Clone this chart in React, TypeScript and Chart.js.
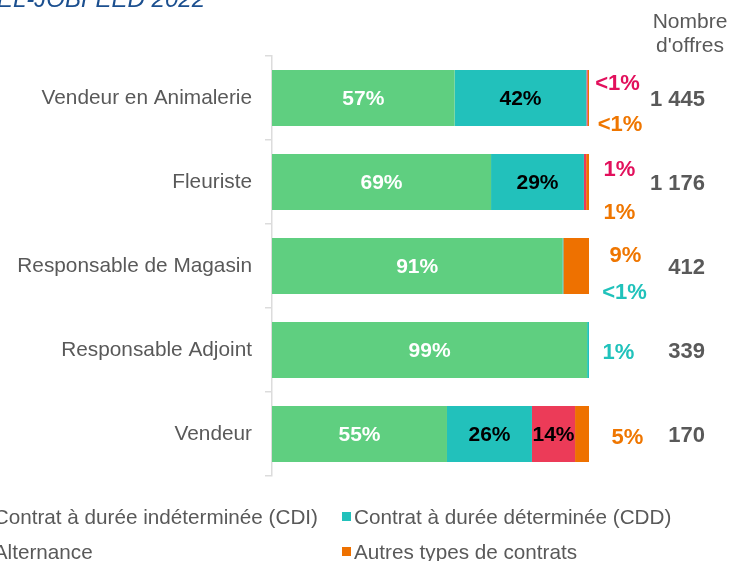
import React, { useEffect, useRef } from "react";
import { Chart, registerables } from "chart.js";

Chart.register(...registerables);

// ---- data ----
const categories = [
  "Vendeur en Animalerie",
  "Fleuriste",
  "Responsable de Magasin",
  "Responsable Adjoint",
  "Vendeur",
];
const cdiValues = [57.6, 69.1, 91.6, 99.4, 55.2];
const cddValues = [41.6, 29.3, 0.3, 0.6, 26.8];
const altValues = [0.4, 0.7, 0, 0, 13.6];
const autresValues = [0.4, 0.9, 8.1, 0, 4.4];

const cdiLabels = ["57%", "69%", "91%", "99%", "55%"];
const cddLabels = ["42%", "29%", "<1%", "1%", "26%"];
const altLabels = ["<1%", "1%", "", "", "14%"];
const autresLabels = ["<1%", "1%", "9%", "", "5%"];

const offres = ["1 445", "1 176", "412", "339", "170"];
const offresHeader = ["Nombre", "d'offres"];
const seriesNames = [
  "Contrat à durée indéterminée (CDI)",
  "Contrat à durée déterminée (CDD)",
  "Alternance",
  "Autres types de contrats",
];
const titleText = "TEXTKERNEL-JOBFEED 2022";

// ---- styles / layout ----
const FONT = "'Liberation Sans', Arial, sans-serif";
const barColors = ["#5fcf80", "#22c1bb", "#ec3b58", "#ee7100"];
const outsideTextColors = ["#5fcf80", "#20c2bb", "#e2105c", "#ef7600"];
const insideTextColors = ["#ffffff", "#000000", "#000000", "#000000"];
const GREY = "#595959";

// outside labels: [row, series, dx from right edge, dy from row centre]
const outsidePlacement: [number, number, number, number][] = [
  [0, 2, 28.5, -14.5],
  [0, 3, 31, 26.5],
  [1, 2, 30.5, -12],
  [1, 3, 30.5, 31],
  [2, 3, 36.5, -10],
  [2, 1, 35.5, 27],
  [3, 1, 29.5, 3],
  [4, 3, 38.5, 4],
];

const allLabels = [cdiLabels, cddLabels, altLabels, autresLabels];

const textPlugin = {
  id: "customText",
  afterDatasetsDraw(chart: any) {
    const ctx = chart.ctx as CanvasRenderingContext2D;
    const xs = chart.scales.x;
    const ys = chart.scales.y;
    ctx.save();

    // inside labels
    ctx.textAlign = "center";
    ctx.textBaseline = "middle";
    ctx.font = `bold 21px ${FONT}`;
    chart.data.datasets.forEach((ds: any, di: number) => {
      const meta = chart.getDatasetMeta(di);
      meta.data.forEach((el: any, j: number) => {
        const v = ds.data[j];
        if (v >= 10) {
          ctx.fillStyle = insideTextColors[di];
          ctx.fillText(allLabels[di][j], (el.x + el.base) / 2, el.y + 1);
        }
      });
    });

    // outside labels
    ctx.font = `bold 22px ${FONT}`;
    const right = xs.getPixelForValue(100);
    outsidePlacement.forEach(([row, s, dx, dy]) => {
      ctx.fillStyle = outsideTextColors[s];
      ctx.fillText(allLabels[s][row], right + dx, ys.getPixelForValue(row) + dy);
    });

    // number of offers
    ctx.textAlign = "right";
    ctx.fillStyle = GREY;
    ctx.font = `bold 22px ${FONT}`;
    offres.forEach((o, j) => {
      ctx.fillText(o, 705, ys.getPixelForValue(j) + 2);
    });

    // header
    ctx.textAlign = "center";
    ctx.font = `21px ${FONT}`;
    ctx.fillText(offresHeader[0], 690, 22);
    ctx.fillText(offresHeader[1], 690, 46);

    // title
    ctx.textAlign = "right";
    ctx.textBaseline = "alphabetic";
    ctx.font = `italic 24px ${FONT}`;
    ctx.fillStyle = "#1b4f8f";
    ctx.fillText(titleText, 205, 7);

    // legend
    ctx.font = `20.7px ${FONT}`;
    ctx.textBaseline = "middle";
    ctx.textAlign = "left";
    const col1End = 318;
    const col1X = col1End - ctx.measureText(seriesNames[0]).width;
    const col2X = 354;
    const rowsY = [517, 552];
    const pos = [
      [col1X, rowsY[0]],
      [col2X, rowsY[0]],
      [col1X, rowsY[1]],
      [col2X, rowsY[1]],
    ];
    seriesNames.forEach((name, i) => {
      const [tx, ty] = pos[i];
      ctx.fillStyle = barColors[i];
      ctx.fillRect(tx - 12, ty - 5, 9, 9);
      ctx.fillStyle = GREY;
      ctx.fillText(name, tx, ty + 1);
    });

    ctx.restore();
  },
};

export default function App() {
  const ref = useRef<HTMLCanvasElement | null>(null);
  useEffect(() => {
    if (!ref.current) return;
    const chart = new Chart(ref.current, {
      type: "bar",
      data: {
        labels: categories,
        datasets: [
          { label: seriesNames[0], data: cdiValues, backgroundColor: barColors[0] },
          { label: seriesNames[1], data: cddValues, backgroundColor: barColors[1] },
          { label: seriesNames[2], data: altValues, backgroundColor: barColors[2] },
          { label: seriesNames[3], data: autresValues, backgroundColor: barColors[3] },
        ].map((d) => ({
          ...d,
          barPercentage: 0.667,
          categoryPercentage: 1,
          borderWidth: 0,
        })),
      },
      options: {
        indexAxis: "y",
        responsive: false,
        animation: false,
        devicePixelRatio: 1,
        layout: { padding: { top: 56, bottom: 85, right: 142, left: 0 } },
        plugins: {
          legend: { display: false },
          tooltip: { enabled: false },
          title: { display: false },
        },
        scales: {
          x: { stacked: true, min: 0, max: 100, display: false },
          y: {
            stacked: true,
            afterFit: (scale: any) => {
              scale.width = 272;
            },
            grid: {
              display: true,
              drawOnChartArea: false,
              offset: true,
              tickLength: 7,
              color: "#dcdcdc",
              lineWidth: 1.5,
            },
            border: { display: true, color: "#dcdcdc", width: 1.5 },
            ticks: {
              color: GREY,
              padding: 13,
              font: { family: FONT, size: 20.8 },
            },
          },
        },
      },
      plugins: [textPlugin],
    });
    return () => chart.destroy();
  }, []);
  return (
    <div style={{ position: "fixed", left: 0, top: 0, width: 731, height: 561, background: "#fff" }}>
      <canvas ref={ref} width={731} height={561} style={{ display: "block" }} />
    </div>
  );
}
